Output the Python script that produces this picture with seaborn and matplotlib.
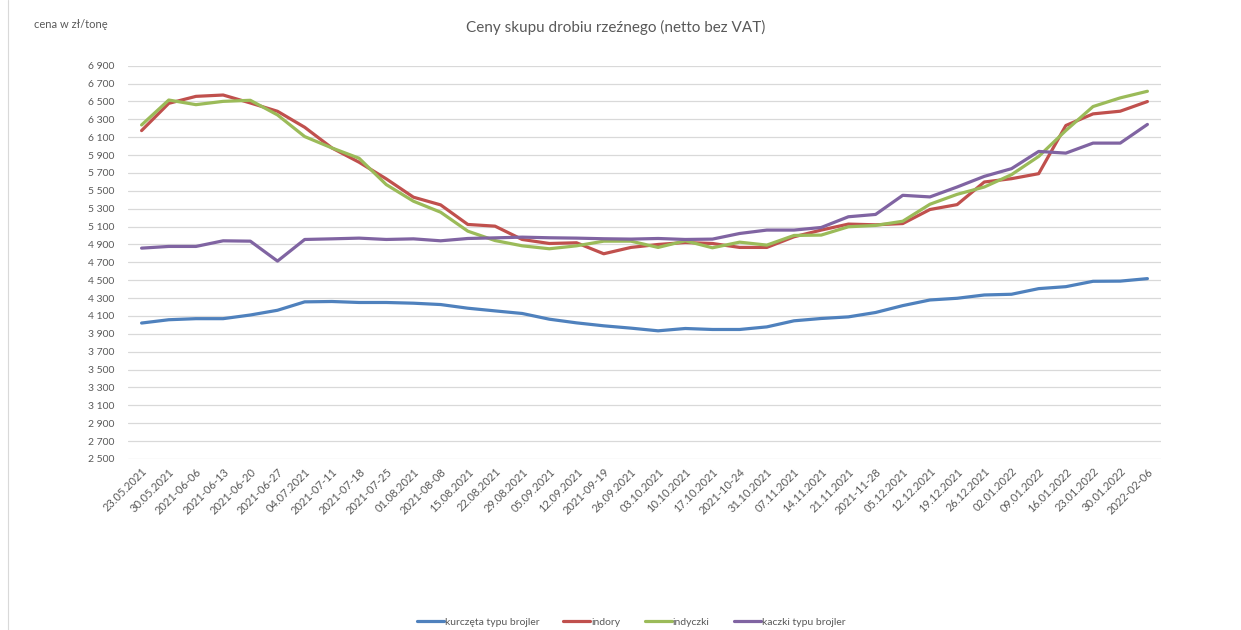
import matplotlib
matplotlib.use('Agg')
import matplotlib.pyplot as plt
import seaborn as sns
import pandas as pd
from matplotlib.ticker import FuncFormatter

dates = ['23.05.2021', '30.05.2021', '2021-06-06', '2021-06-13', '2021-06-20', '2021-06-27',
         '04.07.2021', '2021-07-11', '2021-07-18', '2021-07-25', '01.08.2021', '2021-08-08',
         '15.08.2021', '22.08.2021', '29.08.2021', '05.09.2021', '12.09.2021', '2021-09-19',
         '26.09.2021', '03.10.2021', '10.10.2021', '17.10.2021', '2021-10-24', '31.10.2021',
         '07.11.2021', '14.11.2021', '21.11.2021', '2021-11-28', '05.12.2021', '12.12.2021',
         '19.12.2021', '26.12.2021', '02.01.2022', '09.01.2022', '16.01.2022', '23.01.2022',
         '30.01.2022', '2022-02-06']

kurczeta = [4021, 4058, 4070, 4070, 4111, 4164, 4258, 4262, 4251, 4251, 4243, 4228, 4187, 4157,
            4128, 4064, 4023, 3990, 3964, 3934, 3960, 3949, 3949, 3978, 4046, 4072, 4090, 4139,
            4216, 4279, 4298, 4335, 4343, 4406, 4428, 4488, 4490, 4518]
indory = [6174, 6479, 6557, 6572, 6483, 6390, 6211, 5980, 5820, 5634, 5429, 5343, 5124, 5105,
          4956, 4911, 4919, 4796, 4867, 4900, 4922, 4911, 4867, 4867, 4986, 5061, 5128, 5120,
          5134, 5291, 5346, 5599, 5636, 5692, 6231, 6361, 6391, 6499]
indyczki = [6237, 6516, 6464, 6501, 6513, 6349, 6107, 5980, 5865, 5570, 5384, 5261, 5049, 4944,
            4885, 4852, 4885, 4937, 4937, 4867, 4941, 4863, 4926, 4893, 5001, 5005, 5098, 5113,
            5160, 5350, 5461, 5543, 5681, 5885, 6175, 6443, 6540, 6614]
kaczki = [4859, 4878, 4878, 4941, 4937, 4714, 4956, 4963, 4971, 4956, 4963, 4941, 4967, 4974,
          4982, 4975, 4971, 4964, 4960, 4967, 4956, 4960, 5023, 5061, 5061, 5090, 5210, 5236,
          5450, 5432, 5543, 5662, 5748, 5941, 5922, 6034, 6034, 6243]

series_names = ['kurczęta typu brojler', 'indory', 'indyczki', 'kaczki typu brojler']
colors = ['#4F81BD', '#C0504D', '#9BBB59', '#8064A2']

rows = []
for name, vals in zip(series_names, [kurczeta, indory, indyczki, kaczki]):
    for i, v in enumerate(vals):
        rows.append({'idx': i, 'cena': v, 'seria': name})
df = pd.DataFrame(rows)

sns.set_style('white')
plt.rcParams['font.family'] = ['Lato', 'DejaVu Sans']
txt = '#595959'

fig = plt.figure(figsize=(12.41, 6.30), dpi=100)
ax = fig.add_axes([128 / 1241, 1 - 459 / 630, (1161 - 128) / 1241, (459 - 65.7) / 630])

sns.lineplot(data=df, x='idx', y='cena', hue='seria', hue_order=series_names,
             palette=colors, linewidth=2.3, ax=ax, legend=False)

ax.set_xlim(-0.5, len(dates) - 0.5)
ax.set_ylim(2500, 6900)
ax.set_yticks(range(2500, 6901, 200))
ax.yaxis.set_major_formatter(FuncFormatter(lambda v, p: f'{int(v):,}'.replace(',', ' ')))
ax.set_xticks(range(len(dates)))
ax.set_xticklabels(dates, rotation=45, ha='right', rotation_mode='anchor')
ax.tick_params(axis='both', length=0, labelsize=7.5, colors=txt)
ax.tick_params(axis='x', labelsize=8, pad=5)
ax.tick_params(axis='y', pad=10)
ax.grid(axis='y', color='#D9D9D9', linewidth=0.9)
ax.set_axisbelow(True)
for s in ax.spines.values():
    s.set_visible(False)
ax.set_xlabel('')
ax.set_ylabel('')

fig.text(616 / 1241, 1 - 27 / 630, 'Ceny skupu drobiu rzeźnego (netto bez VAT)',
         ha='center', va='center', fontsize=11, color=txt)
fig.text(34 / 1241, 1 - 25 / 630, 'cena w zł/tonę', ha='left', va='center',
         fontsize=8, color=txt)

handles = [plt.Line2D([], [], color=c, linewidth=2.3) for c in colors]
fig.legend(handles, series_names, loc='center', bbox_to_anchor=(631 / 1241, 1 - 622 / 630),
           ncol=4, frameon=False, fontsize=7.5, handlelength=2.6, handletextpad=0.1,
           columnspacing=2.3, labelcolor=txt)

fig.add_artist(plt.Line2D([8 / 1241, 8 / 1241], [0, 1], color='#D9D9D9', linewidth=0.8))

fig.savefig('out.png', dpi=100)
